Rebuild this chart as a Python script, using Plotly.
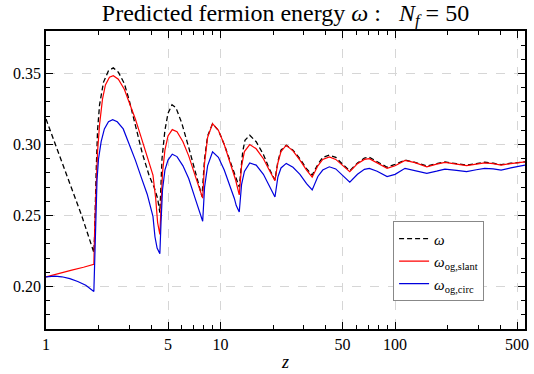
import math
import plotly.graph_objects as go

# ---- data ----
z_omega = [1.00, 1.20, 1.40, 1.60, 1.88, 1.898, 1.937, 1.974, 2.027, 2.136, 2.28, 2.43, 2.597, 2.81, 3.00,
           3.25, 3.56, 3.90, 4.16, 4.36, 4.49, 4.62, 4.80, 5.00, 5.27, 5.55, 6.00, 6.57, 7.20, 7.83,
           8.10, 8.43, 9.00, 9.72, 10.5, 11.4, 12.2, 12.8, 13.4, 13.8, 14.7, 16.0, 17.6, 19.0, 20.5,
           21.3, 22.2, 23.8, 26.0, 28.5, 31.1, 33.5, 36.1, 38.5, 42.0, 45.7, 50.1, 55.0, 60.9, 66.7,
           71.2, 78.9, 90, 100, 114, 130, 152, 173, 193, 225, 257, 292, 326, 365, 405, 460, 555]
omega = [0.318, 0.292, 0.270, 0.250, 0.224, 0.235, 0.280, 0.310, 0.328, 0.344, 0.352, 0.354, 0.351, 0.343, 0.331,
         0.313, 0.294, 0.278, 0.270, 0.262, 0.252, 0.290, 0.310, 0.322, 0.328, 0.326, 0.315, 0.298, 0.280, 0.2634,
         0.290, 0.306, 0.3147, 0.310, 0.300, 0.288, 0.278, 0.270, 0.295, 0.303, 0.3065, 0.302, 0.293, 0.283, 0.275,
         0.288, 0.296, 0.2995, 0.296, 0.290, 0.283, 0.2785, 0.286, 0.291, 0.2925, 0.291, 0.286, 0.2815, 0.287, 0.2905,
         0.291, 0.288, 0.284, 0.286, 0.289, 0.2875, 0.2848, 0.2865, 0.2877, 0.2865, 0.2855, 0.2865, 0.2875, 0.2868, 0.2858, 0.2868, 0.2878]

z_slant = [1.00, 1.20, 1.405, 1.64, 1.88, 1.905, 1.94, 1.974, 2.027, 2.107, 2.19, 2.31, 2.43, 2.597, 2.81, 3.00,
           3.25, 3.51, 3.80, 4.10, 4.25, 4.36, 4.49, 4.56, 4.65, 4.80, 5.00, 5.29, 5.63, 6.09, 6.57, 7.20, 7.90,
           8.10, 8.43, 9.00, 9.72, 10.5, 11.4, 12.2, 12.8, 13.2, 13.7, 14.7, 16.0, 17.6, 19.0, 20.5,
           21.3, 22.2, 23.8, 26.0, 28.5, 31.1, 33.5, 36.1, 38.5, 42.0, 45.7, 50.1, 55.0, 60.9, 66.7,
           71.2, 78.9, 90, 100, 114, 130, 152, 173, 193, 225, 257, 292, 326, 365, 405, 460, 555]
slant = [0.2067, 0.2095, 0.2115, 0.2135, 0.2156, 0.245, 0.270, 0.295, 0.314, 0.332, 0.342, 0.3475, 0.3485, 0.346, 0.339, 0.330,
         0.318, 0.305, 0.292, 0.2785, 0.262, 0.245, 0.2366, 0.255, 0.280, 0.296, 0.306, 0.3105, 0.309, 0.302, 0.292, 0.277, 0.2622,
         0.287, 0.305, 0.3147, 0.310, 0.300, 0.286, 0.275, 0.2645, 0.285, 0.295, 0.300, 0.297, 0.290, 0.282, 0.2745,
         0.287, 0.295, 0.2995, 0.2955, 0.289, 0.282, 0.277, 0.285, 0.2895, 0.2913, 0.2895, 0.285, 0.2808, 0.2865, 0.2895,
         0.290, 0.287, 0.2832, 0.285, 0.2888, 0.2872, 0.2843, 0.2862, 0.2874, 0.2862, 0.2851, 0.2862, 0.2871, 0.2865, 0.2855, 0.2866, 0.2878]

z_circ = [1.00, 1.125, 1.233, 1.37, 1.52, 1.69, 1.88, 1.90, 1.92, 1.96, 2.00, 2.07, 2.16, 2.28, 2.41, 2.56, 2.77, 3.00,
          3.25, 3.51, 3.80, 4.10, 4.21, 4.33, 4.49, 4.56, 4.65, 4.80, 5.00, 5.29, 5.63, 6.09, 6.57, 7.20, 7.90,
          8.10, 8.43, 9.00, 9.72, 10.5, 11.4, 12.0, 12.3, 12.8, 13.2, 13.7, 14.7, 16.0, 17.6, 19.0, 20.5,
          21.3, 22.2, 23.8, 26.0, 28.5, 31.1, 33.5, 36.1, 38.5, 42.0, 45.7, 50.1, 55.0, 60.9, 66.7,
          71.2, 78.9, 90, 100, 114, 130, 152, 173, 193, 225, 257, 292, 326, 365, 405, 460, 555]
circ = [0.2067, 0.2072, 0.2068, 0.2055, 0.2035, 0.2008, 0.1965, 0.220, 0.250, 0.275, 0.290, 0.302, 0.311, 0.316, 0.3175, 0.316, 0.311, 0.3007,
        0.289, 0.277, 0.265, 0.2494, 0.235, 0.227, 0.223, 0.245, 0.268, 0.282, 0.289, 0.2932, 0.2915, 0.285, 0.276, 0.261, 0.2459,
        0.270, 0.285, 0.2948, 0.291, 0.282, 0.270, 0.262, 0.257, 0.2525, 0.272, 0.281, 0.287, 0.2855, 0.279, 0.271, 0.263,
        0.277, 0.2835, 0.2867, 0.284, 0.279, 0.2725, 0.268, 0.2775, 0.282, 0.2843, 0.2828, 0.278, 0.2734, 0.279, 0.2825,
        0.2832, 0.2812, 0.2774, 0.279, 0.2832, 0.2818, 0.2797, 0.2812, 0.2827, 0.2818, 0.2809, 0.2822, 0.2832, 0.2828, 0.282, 0.2835, 0.2855]

x_tickvals = [1, 5, 10, 50, 100, 500]
x_ticktext = ["1", "5", "10", "50", "100", "500"]
x_minor = [2, 3, 4, 6, 7, 8, 9, 20, 30, 40, 60, 70, 80, 90, 200, 300, 400]
y_tickvals = [0.20, 0.25, 0.30, 0.35]
y_ticktext = ["0.20", "0.25", "0.30", "0.35"]
y_minor = [0.17, 0.18, 0.19, 0.21, 0.22, 0.23, 0.24, 0.26, 0.27, 0.28, 0.29, 0.31, 0.32, 0.33, 0.34, 0.36, 0.37]
x_max = 555
y_range = [0.17, 0.38]

SERIF = "Liberation Serif"

fig = go.Figure()
fig.add_trace(go.Scatter(x=z_omega, y=omega, mode="lines", name="<i>ω</i>",
                         line=dict(color="black", width=1.3, dash="5px,3px")))
fig.add_trace(go.Scatter(x=z_slant, y=slant, mode="lines", name="<i>ω</i><sub>og,slant</sub>",
                         line=dict(color="#ff0000", width=1.2)))
fig.add_trace(go.Scatter(x=z_circ, y=circ, mode="lines", name="<i>ω</i><sub>og,circ</sub>",
                         line=dict(color="#0000dd", width=1.2)))

fig.update_layout(
    width=534, height=374,
    margin=dict(l=46, r=5, t=31, b=44),
    plot_bgcolor="white", paper_bgcolor="white",
    font=dict(family=SERIF, size=16, color="black"),
    title=dict(text="Predicted fermion energy <i>ω</i> :   <i>N<sub>f</sub></i> = 50",
               xref="paper", x=0.5, xanchor="center",
               yref="container", y=1 - 13 / 374, yanchor="middle",
               font=dict(family=SERIF, size=24, color="black")),
    showlegend=True,
    legend=dict(x=0.7246, y=0.361, xanchor="left", yanchor="top",
                bgcolor="white", bordercolor="#888888", borderwidth=1,
                font=dict(family=SERIF, size=15, color="black"),
                itemwidth=30, tracegroupgap=0),
)

fig.update_xaxes(
    type="log", range=[0, math.log10(x_max)],
    tickmode="array", tickvals=x_tickvals, ticktext=x_ticktext,
    ticks="inside", ticklen=7, tickwidth=1.3, tickcolor="black",
    showline=True, linecolor="black", linewidth=1.5, mirror="allticks",
    showgrid=True, gridcolor="#d6d6d6", griddash="dash", gridwidth=1,
    zeroline=False,
    minor=dict(tickmode="array", tickvals=x_minor, ticks="inside", ticklen=4,
               tickwidth=1.3, tickcolor="black", showgrid=False),
    title=dict(text="<i>z</i>", standoff=3, font=dict(family=SERIF, size=18)),
)
fig.update_yaxes(
    range=y_range,
    tickmode="array", tickvals=y_tickvals, ticktext=y_ticktext,
    ticks="inside", ticklen=7, tickwidth=1.3, tickcolor="black",
    showline=True, linecolor="black", linewidth=1.5, mirror="allticks",
    showgrid=True, gridcolor="#d6d6d6", griddash="dash", gridwidth=1,
    zeroline=False,
    minor=dict(tickmode="array", tickvals=y_minor, ticks="inside", ticklen=4,
               tickwidth=1.3, tickcolor="black", showgrid=False),
)

fig.write_html("out.html")
